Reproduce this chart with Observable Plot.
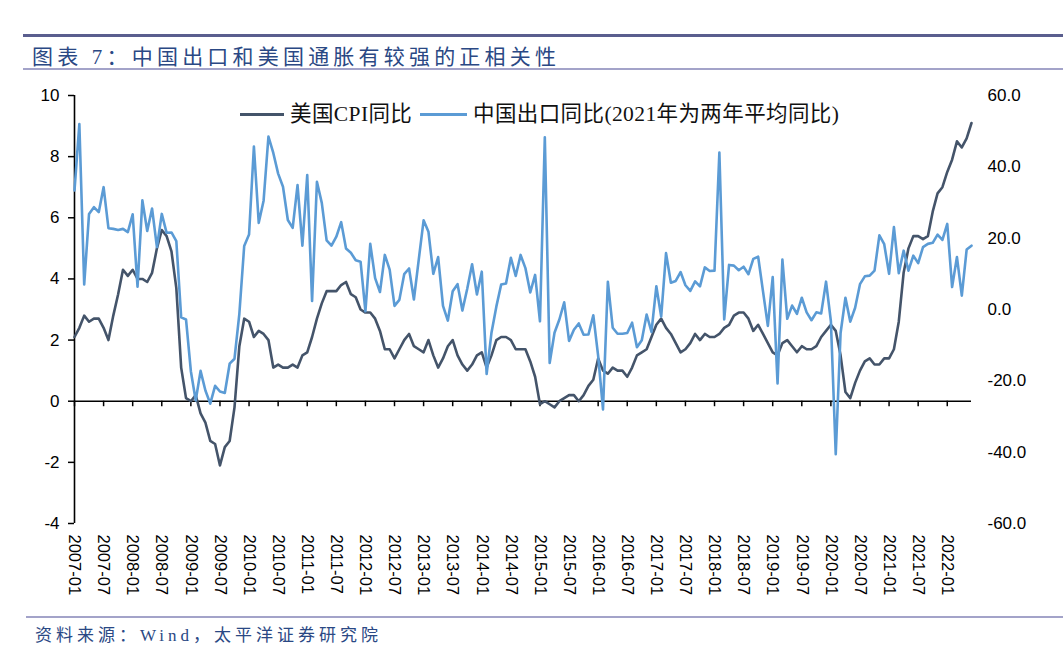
<!DOCTYPE html>
<html>
<head>
<meta charset="utf-8">
<script src="https://cdn.jsdelivr.net/npm/d3@7"></script>
<script src="https://cdn.jsdelivr.net/npm/@observablehq/plot@0.6"></script>
<style>
  html, body { margin: 0; padding: 0; background: #fff; }
  #wrap { position: relative; width: 1063px; height: 663px; overflow: hidden; background: #fff; }
  .abs { position: absolute; }
  #chart { position: absolute; left: 0; top: 75px; }
  .title { left: 32px; top: 40px; font-family: "Liberation Serif", "Noto Sans CJK SC", serif; font-size: 21px; letter-spacing: 4.2px; color: #2a4884; white-space: nowrap; }
  .foot { left: 35px; top: 621px; font-family: "Liberation Serif", "Noto Sans CJK SC", serif; font-size: 17px; letter-spacing: 4px; color: #2a4884; white-space: nowrap; }
  .leg { top: 102px; font-family: "Liberation Serif", "Noto Sans CJK SC", serif; font-size: 21.5px; letter-spacing: 0.4px; color: #111; white-space: nowrap; line-height: 24px; }
  .legline { height: 3px; }
</style>
</head>
<body>
<div id="wrap">
  <div class="abs" style="left:23px; right:0; top:34px; height:3px; background:#5a5e8e;"></div>
  <div class="abs title">图表 7：中国出口和美国通胀有较强的正相关性</div>
  <div class="abs" style="left:23px; right:0; top:68px; height:2px; background:#a3a3c9;"></div>
  <div id="chart"></div>
  <div class="abs legline" style="left:240px; width:44px; top:113px; background:#44546a;"></div>
  <div class="abs leg" style="left:290px;">美国CPI同比</div>
  <div class="abs legline" style="left:420px; width:47px; top:113px; background:#5b9bd5;"></div>
  <div class="abs leg" style="left:473px;">中国出口同比(2021年为两年平均同比)</div>
  <div class="abs" style="left:26px; right:0; top:616px; height:2px; background:#a3a3c9;"></div>
  <div class="abs foot">资料来源：Wind，太平洋证券研究院</div>
</div>
<script>
// Monthly categories 2007-01 .. 2022-06
const startYear = 2007;
const nMonths = 186;
const months = Array.from({length: nMonths}, (_, i) => {
  const y = startYear + Math.floor(i / 12), m = (i % 12) + 1;
  return `${y}-${String(m).padStart(2, "0")}`;
});

// US CPI YoY (%), left axis
const usCPI = [
  2.1,2.4,2.8,2.6,2.7,2.7,2.4,2.0,2.8,3.5,4.3,4.1,
  4.3,4.0,4.0,3.9,4.2,5.0,5.6,5.4,4.9,3.7,1.1,0.1,
  0.0,0.2,-0.4,-0.7,-1.3,-1.4,-2.1,-1.5,-1.3,-0.2,1.8,2.7,
  2.6,2.1,2.3,2.2,2.0,1.1,1.2,1.1,1.1,1.2,1.1,1.5,
  1.6,2.1,2.7,3.2,3.6,3.6,3.6,3.8,3.9,3.5,3.4,3.0,
  2.9,2.9,2.7,2.3,1.7,1.7,1.4,1.7,2.0,2.2,1.8,1.7,
  1.6,2.0,1.5,1.1,1.4,1.8,2.0,1.5,1.2,1.0,1.2,1.5,
  1.6,1.1,1.5,2.0,2.1,2.1,2.0,1.7,1.7,1.7,1.3,0.8,
  -0.1,0.0,-0.1,-0.2,0.0,0.1,0.2,0.2,0.0,0.2,0.5,0.7,
  1.4,1.0,0.9,1.1,1.0,1.0,0.8,1.1,1.5,1.6,1.7,2.1,
  2.5,2.7,2.4,2.2,1.9,1.6,1.7,1.9,2.2,2.0,2.2,2.1,
  2.1,2.2,2.4,2.5,2.8,2.9,2.9,2.7,2.3,2.5,2.2,1.9,
  1.6,1.5,1.9,2.0,1.8,1.6,1.8,1.7,1.7,1.8,2.1,2.3,
  2.5,2.3,1.5,0.3,0.1,0.6,1.0,1.3,1.4,1.2,1.2,1.4,
  1.4,1.7,2.6,4.2,5.0,5.4,5.4,5.3,5.4,6.2,6.8,7.0,
  7.5,7.9,8.5,8.3,8.6,9.1
];

// China exports YoY (%), right axis (2021: two-year average)
const chinaExports = [
  33.4,52.0,7.0,26.8,28.7,27.3,34.3,22.8,22.6,22.3,22.6,21.7,
  26.7,6.4,30.6,22.0,28.3,17.5,26.8,21.5,21.6,19.2,-2.2,-2.8,
  -17.3,-25.5,-17.2,-22.7,-26.4,-21.4,-23.0,-23.4,-15.2,-13.8,-1.2,17.8,
  21.0,45.7,24.3,30.5,48.5,43.9,38.1,34.4,25.1,22.9,34.9,17.9,
  37.7,2.4,35.8,29.9,19.4,17.9,20.4,24.5,17.1,15.9,13.8,13.4,
  -0.5,18.4,8.8,4.9,15.3,11.2,1.0,2.7,9.9,11.5,2.8,14.0,
  25.0,21.8,10.0,14.7,1.0,-3.1,5.1,7.1,-0.3,5.8,12.7,4.2,
  10.6,-18.1,-6.5,0.8,7.0,7.3,14.5,9.4,15.3,11.6,4.8,9.7,
  -3.3,48.3,-15.0,-6.5,-2.8,2.0,-8.8,-5.7,-3.9,-7.1,-7.0,-1.6,
  -13.0,-28.0,7.8,-5.1,-6.8,-6.8,-6.6,-3.7,-10.6,-8.6,-1.4,-6.3,
  6.5,-2.0,15.8,7.5,8.0,10.5,6.8,5.2,7.9,6.5,11.8,10.8,
  10.9,44.0,-2.8,12.5,12.3,11.0,12.0,9.9,14.2,14.8,5.1,-4.6,
  9.1,-20.7,14.0,-2.6,1.1,-1.2,3.3,-0.8,-3.0,-0.8,-1.1,7.8,
  -3.3,-40.6,-6.6,3.3,-3.4,0.5,7.1,9.3,9.5,10.9,20.8,18.3,
  10.0,23.1,10.2,16.5,10.9,15.1,13.0,17.5,18.4,18.7,21.0,19.5,
  24.0,6.3,14.7,3.9,16.8,17.9
];

// Tick labels
const leftTicks = [-4, -2, 0, 2, 4, 6, 8, 10];
const rightTicks = [-60, -40, -20, 0, 20, 40, 60];
const xTickIdx = d3.range(0, nMonths, 6);

// right axis (-60..60) mapped onto left axis (-4..10)
const leftDomain = [-4, 10], rightDomain = [-60, 60];
const k = (leftDomain[1] - leftDomain[0]) / (rightDomain[1] - rightDomain[0]);
const toLeft = v => leftDomain[0] + (v - rightDomain[0]) * k;
const fromLeft = v => rightDomain[0] + (v - leftDomain[0]) / k;

const cpiData = months.map((m, i) => ({i, v: usCPI[i]}));
const expData = months.map((m, i) => ({i, v: toLeft(chinaExports[i])}));

const font = "'Liberation Sans', Arial, sans-serif";

const chart = Plot.plot({
  width: 1063,
  height: 540,
  marginTop: 20,
  marginBottom: 92,
  marginLeft: 74,
  marginRight: 92,
  style: {fontFamily: font, fontSize: "17px", color: "#000", background: "transparent", overflow: "visible"},
  x: {type: "linear", domain: [0, nMonths - 1]},
  y: {domain: leftDomain},
  marks: [
    Plot.axisY(leftTicks, {anchor: "left", tickSize: 6, tickPadding: 9, tickFormat: d => String(d), label: null, fontSize: 17, strokeWidth: 1.5}),
    Plot.axisY(rightTicks.map(toLeft), {anchor: "right", tickSize: 0, tickPadding: 16, tickFormat: d => fromLeft(d).toFixed(1), label: null, fontSize: 17}),
    Plot.axisX(xTickIdx, {anchor: "bottom", tickSize: 0, tickPadding: 11, tickRotate: 90, tickFormat: i => months[i], label: null, fontSize: 16.5}),
    Plot.ruleX([0], {stroke: "#000", strokeWidth: 1.6}),
    Plot.ruleY([0], {stroke: "#000", strokeWidth: 1.6}),
    Plot.ruleX(xTickIdx, {y1: 0, y2: -0.18, stroke: "#000", strokeWidth: 1.5}),
    Plot.line(cpiData, {x: "i", y: "v", stroke: "#44546a", strokeWidth: 2.6, curve: "linear"}),
    Plot.line(expData, {x: "i", y: "v", stroke: "#5b9bd5", strokeWidth: 2.6, curve: "linear"})
  ]
});
document.getElementById("chart").appendChild(chart);
</script>
</body>
</html>
